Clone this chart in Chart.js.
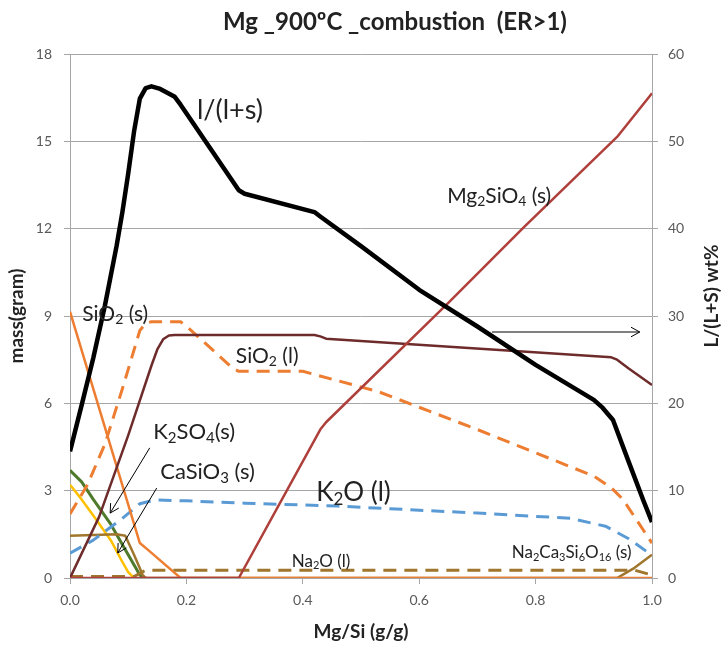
<!DOCTYPE html>
<html>
<head>
<meta charset="utf-8">
<script src="https://cdn.jsdelivr.net/npm/chart.js@4.4.1/dist/chart.umd.min.js"></script>
<style>
  body { margin: 0; background: #fff; }
  canvas { display: block; }
</style>
</head>
<body>
<canvas id="chart" width="723" height="649"></canvas>
<script>
/* DATA */
const massTicks = [0, 3, 6, 9, 12, 15, 18];
const pctTicks = [0, 10, 20, 30, 40, 50, 60];

// l/(l+s), right axis (wt%)
const xLiq = [0, 0.02, 0.04, 0.06, 0.08, 0.09, 0.1, 0.11, 0.12, 0.13, 0.14, 0.155, 0.18, 0.19, 0.29, 0.3, 0.42, 0.43, 0.5, 0.6, 0.7, 0.8, 0.9, 0.915, 0.933, 0.96, 0.985, 1.0];
const liqFrac = [14.5, 19.8, 25.2, 31.2, 38.0, 41.9, 46.3, 51.1, 54.9, 56.1, 56.3, 56, 55.1, 54.2, 44.4, 44, 41.9, 41.4, 38.0, 33.0, 28.8, 24.4, 20.4, 19.5, 18.1, 13.3, 8.9, 6.4];

// dark maroon solid
const xMelt = [0, 0.05, 0.1, 0.14, 0.15, 0.16, 0.17, 0.18, 0.42, 0.43, 0.44, 0.93, 0.94, 0.96, 1.0];
const melt = [0, 2.1, 4.9, 7.3, 7.85, 8.2, 8.33, 8.35, 8.35, 8.3, 8.22, 7.58, 7.5, 7.2, 6.63];

// SiO2 (l), orange dashed
const xSiO2l = [0, 0.03, 0.06, 0.09, 0.12, 0.13, 0.14, 0.19, 0.2, 0.28, 0.29, 0.4, 0.53, 0.7, 0.9, 0.93, 0.95, 1.0];
const sio2l = [2.2, 3.2, 4.6, 6.5, 8.5, 8.75, 8.8, 8.8, 8.65, 7.2, 7.1, 7.1, 6.4, 5.1, 3.5, 3.1, 2.7, 1.2];

// SiO2 (s), orange solid
const xSiO2s = [0, 0.12, 0.135, 0.19, 1.0];
const sio2s = [9.15, 1.2, 0.95, 0, 0];

// K2O (l), blue dashed
const xK2O = [0, 0.04, 0.09, 0.12, 0.145, 0.2, 0.3, 0.46, 0.7, 0.86, 0.92, 0.96, 1.0];
const k2o = [0.85, 1.3, 2.05, 2.55, 2.68, 2.65, 2.57, 2.47, 2.23, 2.05, 1.78, 1.35, 0.78];

// K2SO4 (s), green
const xK2SO4 = [0, 0.02, 0.04, 0.07, 0.1, 0.12, 0.13];
const k2so4 = [3.7, 3.3, 2.7, 1.85, 0.8, 0.1, 0];

// CaSiO3 (s), yellow
const xCaSiO3 = [0, 0.02, 0.04, 0.07, 0.09, 0.1, 0.11];
const casio3 = [3.2, 2.7, 2.15, 1.3, 0.55, 0.2, 0];

// Na2Ca3Si6O16 (s), brown solid
const xNaCa = [0, 0.08, 0.095, 0.11, 0.125, 0.13, 0.94, 0.97, 1.0];
const nacasi = [1.45, 1.5, 1.45, 0.8, 0.1, 0, 0, 0.35, 0.8];

// Na2O (l), brown dashed
const xNa2O = [0, 0.11, 0.13, 0.97, 1.0];
const na2o = [0.05, 0.05, 0.27, 0.27, 0.1];

// Mg2SiO4 (s), brick red
const xMg2SiO4 = [0, 0.29, 0.43, 0.44, 0.65, 0.78, 0.94, 1.0];
const mg2sio4 = [0, 0, 5.1, 5.35, 9.45, 12.05, 15.15, 16.65];

/* TEXT LABELS (x on Mg/Si, y on mass axis) */
const notes = [
  { text: "l/(l+s)", x: 0.218, y: 16.08, size: 27 },
  { text: "Mg_2SiO_4 (s)", x: 0.648, y: 13.12, size: 21 },
  { text: "SiO_2 (s)", x: 0.021, y: 9.07, size: 21 },
  { text: "SiO_2 (l)", x: 0.285, y: 7.63, size: 21 },
  { text: "K_2SO_4(s)", x: 0.143, y: 5.02, size: 22 },
  { text: "CaSiO_3 (s)", x: 0.155, y: 3.64, size: 22 },
  { text: "K_2O (l)", x: 0.423, y: 2.95, size: 26 },
  { text: "Na_2O (l)", x: 0.381, y: 0.58, size: 17 },
  { text: "Na_2Ca_3Si_6O_16 (s)", x: 0.759, y: 0.86, size: 17 }
];
const arrows = [
  { from: [0.725, 8.45], to: [0.979, 8.45] },
  { from: [0.137, 4.47], to: [0.069, 2.23] },
  { from: [0.149, 3.09], to: [0.082, 0.86] }
];

const FONT = "Lato, 'Open Sans', sans-serif";

function pts(xs, ys) {
  return xs.map((x, i) => ({ x: x, y: ys[i] }));
}

function line(label, xs, ys, color, width, dash, axis) {
  return {
    label: label,
    data: pts(xs, ys),
    borderColor: color,
    borderWidth: width,
    borderDash: dash || [],
    yAxisID: axis || "y",
    pointRadius: 0,
    fill: false,
    tension: 0,
    borderJoinStyle: "round",
    borderCapStyle: "butt"
  };
}

/* RICH TEXT WITH SUBSCRIPTS */
function drawRich(ctx, text, x, y, size) {
  let cx = x;
  text.split(/(_\d+)/).forEach(p => {
    if (!p) return;
    if (p[0] === "_") {
      const s = p.slice(1);
      ctx.font = Math.round(size * 0.66) + "px " + FONT;
      ctx.fillText(s, cx, y + size * 0.28);
      cx += ctx.measureText(s).width;
    } else {
      ctx.font = size + "px " + FONT;
      ctx.fillText(p, cx, y);
      cx += ctx.measureText(p).width;
    }
  });
}

const decor = {
  id: "decor",
  afterDraw(chart) {
    const ctx = chart.ctx;
    const sx = chart.scales.x, sy = chart.scales.y;
    const area = chart.chartArea;
    ctx.save();
    ctx.fillStyle = "#222";
    ctx.textBaseline = "middle";

    // title
    ctx.textAlign = "center";
    ctx.font = "bold 24px " + FONT;
    ctx.fillText("Mg _900\u00BAC _combustion  (ER>1)", 395, 22);

    // axis titles
    ctx.font = "bold 19px " + FONT;
    ctx.fillText("Mg/Si (g/g)", (area.left + area.right) / 2, 632);
    ctx.save();
    ctx.translate(17, (area.top + area.bottom) / 2);
    ctx.rotate(-Math.PI / 2);
    ctx.fillText("mass(gram)", 0, 0);
    ctx.restore();
    ctx.save();
    ctx.translate(712, 296);
    ctx.rotate(-Math.PI / 2);
    ctx.fillText("L/(L+S) wt%", 0, 0);
    ctx.restore();

    // labels
    ctx.textAlign = "left";
    notes.forEach(n => {
      drawRich(ctx, n.text, sx.getPixelForValue(n.x), sy.getPixelForValue(n.y), n.size);
    });

    // arrows
    ctx.strokeStyle = "#000";
    ctx.lineWidth = 1;
    arrows.forEach(a => {
      const x1 = sx.getPixelForValue(a.from[0]), y1 = sy.getPixelForValue(a.from[1]);
      const x2 = sx.getPixelForValue(a.to[0]), y2 = sy.getPixelForValue(a.to[1]);
      const ang = Math.atan2(y2 - y1, x2 - x1);
      ctx.beginPath();
      ctx.moveTo(x1, y1);
      ctx.lineTo(x2, y2);
      ctx.moveTo(x2 - 10 * Math.cos(ang - 0.5), y2 - 10 * Math.sin(ang - 0.5));
      ctx.lineTo(x2, y2);
      ctx.lineTo(x2 - 10 * Math.cos(ang + 0.5), y2 - 10 * Math.sin(ang + 0.5));
      ctx.stroke();
    });
    ctx.restore();
  }
};

/* RENDER CHART */
const GRID = "#A6A6A6";
const TICK = { color: "#595959", font: { family: FONT, size: 14 } };

new Chart(document.getElementById("chart"), {
  type: "line",
  data: {
    datasets: [
      line("l/(l+s)", xLiq, liqFrac, "#000000", 4.5, null, "y2"),
      line("Mg2SiO4 (s)", xMg2SiO4, mg2sio4, "#AF3F3B", 2.5),
      line("melt", xMelt, melt, "#6E2B2B", 2.5),
      line("SiO2 (l)", xSiO2l, sio2l, "#ED7D31", 3, [13, 8]),
      line("SiO2 (s)", xSiO2s, sio2s, "#ED7D31", 2.5),
      line("K2O (l)", xK2O, k2o, "#5B9BD5", 3, [13, 8]),
      line("Na2O (l)", xNa2O, na2o, "#A0762C", 3, [13, 8]),
      line("Na2Ca3Si6O16 (s)", xNaCa, nacasi, "#A0762C", 2.5),
      line("K2SO4 (s)", xK2SO4, k2so4, "#4F7A2C", 3),
      line("CaSiO3 (s)", xCaSiO3, casio3, "#FFC000", 2.5)
    ]
  },
  options: {
    responsive: false,
    animation: false,
    devicePixelRatio: 1,
    layout: { padding: { top: 54, left: 0, right: 0, bottom: 0 } },
    plugins: { legend: { display: false }, title: { display: false }, tooltip: { enabled: false } },
    scales: {
      x: {
        type: "linear",
        min: 0, max: 1,
        afterFit: s => { s.height = 71; },
        ticks: Object.assign({ stepSize: 0.2, padding: 8, maxRotation: 0, callback: v => v.toFixed(1) }, TICK),
        grid: { drawOnChartArea: false, drawTicks: true, tickLength: 6, color: GRID },
        border: { color: GRID }
      },
      y: {
        position: "left",
        min: 0, max: 18,
        afterFit: s => { s.width = 70; },
        afterBuildTicks: s => { s.ticks = massTicks.map(v => ({ value: v })); },
        ticks: Object.assign({ padding: 12 }, TICK),
        grid: { color: GRID, tickLength: 6 },
        border: { color: GRID }
      },
      y2: {
        position: "right",
        min: 0, max: 60,
        afterFit: s => { s.width = 71; },
        afterBuildTicks: s => { s.ticks = pctTicks.map(v => ({ value: v })); },
        ticks: Object.assign({ padding: 10 }, TICK),
        grid: { drawOnChartArea: false, tickLength: 6, color: GRID },
        border: { color: GRID }
      }
    }
  },
  plugins: [decor]
});
</script>
</body>
</html>
